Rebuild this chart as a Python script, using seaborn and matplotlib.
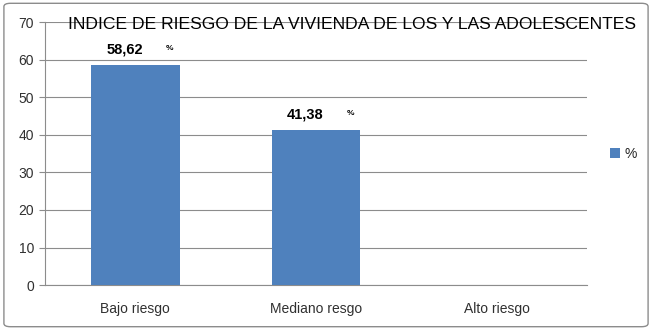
"""
Indice de riesgo de la vivienda de los y las adolescentes
"""

import matplotlib
matplotlib.use('Agg')
import matplotlib.pyplot as plt
import pandas as pd
import seaborn as sns
from matplotlib.patches import FancyBboxPatch

# Données
categorias = ['Bajo riesgo', 'Mediano resgo', 'Alto riesgo']
porcentajes = [58.62, 41.38, 0.0]
etiquetas = ['58,62', '41,38', '']
y_ticks = [0, 10, 20, 30, 40, 50, 60, 70]

df = pd.DataFrame({'categoria': categorias, 'pct': porcentajes})

sns.set_theme(style='white')
plt.rcParams['font.family'] = ['Liberation Sans', 'DejaVu Sans']

fig = plt.figure(figsize=(6.52, 3.30), dpi=100)
ax = fig.add_axes([0.069, 0.136, 0.831, 0.797])

sns.barplot(data=df, x='categoria', y='pct', ax=ax, color='#4F81BD',
            saturation=1, width=0.49, label='%', zorder=3, linewidth=0)

ax.set_ylim(0, 70)
ax.set_xlim(-0.5, 2.5)
ax.set_yticks(y_ticks)
ax.yaxis.grid(True, color='#8C8C8C', linewidth=0.8, zorder=0)
ax.set_xlabel('')
ax.set_ylabel('')
for s in ['top', 'right']:
    ax.spines[s].set_visible(False)
for s in ['left', 'bottom']:
    ax.spines[s].set_color('#8C8C8C')
    ax.spines[s].set_linewidth(0.8)

# Petites graduations entre catégories
ax.set_xticks([-0.5, 0.5, 1.5, 2.5], minor=True)
ax.tick_params(axis='x', which='minor', length=4, color='#8C8C8C', width=0.8)
ax.tick_params(axis='x', which='major', length=0, labelsize=10, pad=12)
ax.tick_params(axis='y', length=4, color='#8C8C8C', width=0.8, labelsize=10,
               left=True, pad=4)
ax.set_xticklabels(categorias, color='#303030')
for t in ax.get_yticklabels():
    t.set_color('#303030')

# Étiquettes des barres
for i, (v, lab) in enumerate(zip(porcentajes, etiquetas)):
    if lab:
        ax.text(i - 0.06, v + 2.2, lab, ha='center', va='bottom', fontsize=10.5,
                fontweight='bold', color='black')
        ax.text(i + 0.19, v + 3.4, '%', ha='center', va='bottom', fontsize=6,
                fontweight='bold', color='black')

# Titre
fig.text(0.54, 0.925, 'INDICE DE RIESGO DE LA VIVIENDA DE LOS Y LAS ADOLESCENTES',
         ha='center', va='center', fontsize=12.6, color='black')

# Légende
leg = ax.legend(loc='center left', bbox_to_anchor=(1.02, 0.5), frameon=False,
                fontsize=10, handlelength=0.7, handleheight=0.7, handletextpad=0.3)

# Cadre extérieur
fig.patches.append(FancyBboxPatch((0.006, 0.01), 0.988, 0.98,
                                  boxstyle='round,pad=0,rounding_size=0.01',
                                  transform=fig.transFigure, facecolor='none',
                                  edgecolor='#8C8C8C', linewidth=1.0))

fig.savefig('out.png', dpi=100)
plt.close(fig)
